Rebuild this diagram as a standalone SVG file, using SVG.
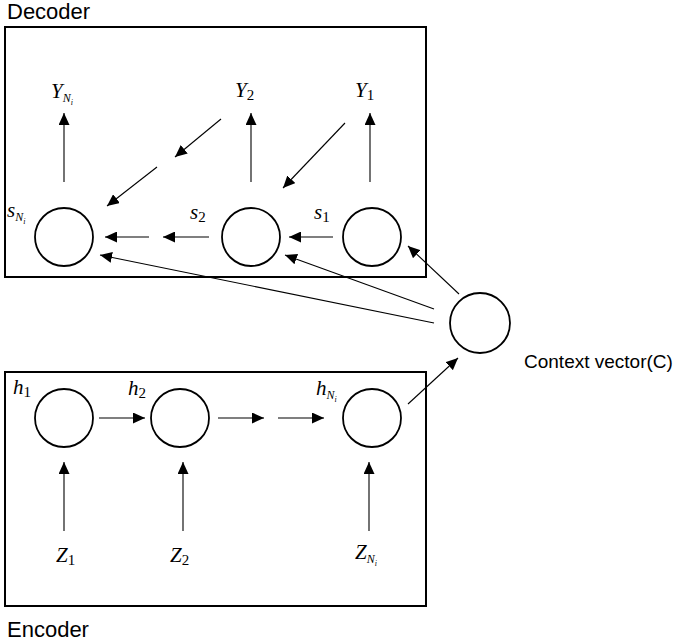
<svg xmlns="http://www.w3.org/2000/svg" width="674" height="643" viewBox="0 0 674 643">
<style>
.box{fill:none;stroke:#000;stroke-width:2}
.node{fill:#fff;stroke:#000;stroke-width:1.8}
.lbl{font-family:"Liberation Sans",Arial,sans-serif;font-size:22px;fill:#000}
.m{font-family:"Liberation Serif","DejaVu Serif",serif;font-style:italic;font-size:21px;fill:#000}
.sub{font-style:normal;font-size:15px}
.subn{font-style:italic;font-size:12px}
.subi{font-style:italic;font-size:8px}
.c line{stroke:#000;stroke-width:1.1;fill:none}
.c line.a{marker-end:url(#ah)}
</style>
<defs>
<marker id="ah" markerUnits="userSpaceOnUse" markerWidth="12" markerHeight="11" refX="12" refY="5.5" orient="auto">
<path d="M0,0 L12,5.5 L0,11 z" fill="#000"/>
</marker>
</defs>
<g id="decoder">
<rect class="box" x="5" y="27" width="421" height="250"/>
<text class="lbl" x="7" y="19">Decoder</text>
</g>
<g id="encoder">
<rect class="box" x="5" y="372" width="421" height="234"/>
<text class="lbl" x="7" y="637">Encoder</text>
</g>
<g id="sN"><circle class="node" cx="64" cy="237" r="29"/>
<text class="m" x="7" y="217">s<tspan class="subn" dy="4">N</tspan><tspan class="subi" dy="3">i</tspan></text></g>
<g id="s2"><circle class="node" cx="251" cy="237" r="29"/>
<text class="m" x="190" y="219">s<tspan class="sub" dy="3">2</tspan></text></g>
<g id="s1"><circle class="node" cx="372" cy="237" r="29"/>
<text class="m" x="314" y="219">s<tspan class="sub" dy="3">1</tspan></text></g>
<g id="yN"><text class="m" x="51" y="98">Y<tspan class="subn" dy="4">N</tspan><tspan class="subi" dy="3">i</tspan></text></g>
<g id="y2"><text class="m" x="235" y="97">Y<tspan class="sub" dy="3">2</tspan></text></g>
<g id="y1"><text class="m" x="355" y="97">Y<tspan class="sub" dy="3">1</tspan></text></g>
<g id="ctx"><circle class="node" cx="480" cy="323" r="30"/>
<text class="lbl" x="524" y="368" style="font-size:19px">Context vector(C)</text></g>
<g id="h1"><circle class="node" cx="64" cy="418" r="29"/>
<text class="m" x="13" y="394">h<tspan class="sub" dy="3">1</tspan></text></g>
<g id="h2"><circle class="node" cx="180" cy="418" r="29"/>
<text class="m" x="128" y="395">h<tspan class="sub" dy="3">2</tspan></text></g>
<g id="hN"><circle class="node" cx="372" cy="418" r="29"/>
<text class="m" x="316" y="395">h<tspan class="subn" dy="4">N</tspan><tspan class="subi" dy="3">i</tspan></text></g>
<g id="z1"><text class="m" x="56" y="562">Z<tspan class="sub" dy="3">1</tspan></text></g>
<g id="z2"><text class="m" x="170" y="562">Z<tspan class="sub" dy="3">2</tspan></text></g>
<g id="zN"><text class="m" x="355" y="559">Z<tspan class="subn" dy="4">N</tspan><tspan class="subi" dy="3">i</tspan></text></g>
<g id="connectors" class="c">
<line class="a" x1="64" y1="182" x2="64" y2="113"/>
<line class="a" x1="251" y1="182" x2="251" y2="113"/>
<line class="a" x1="370" y1="182" x2="370" y2="113"/>
<line class="a" x1="221" y1="119" x2="175" y2="157"/>
<line class="a" x1="157" y1="167" x2="107" y2="206"/>
<line class="a" x1="345" y1="123" x2="283" y2="188"/>
<line class="a" x1="333" y1="237" x2="289" y2="237"/>
<line class="a" x1="209" y1="237" x2="163" y2="237"/>
<line class="a" x1="149" y1="237" x2="105" y2="237"/>
<line class="a" x1="459" y1="294" x2="408" y2="246"/>
<line class="a" x1="434" y1="309" x2="285" y2="255"/>
<line class="a" x1="434" y1="323" x2="100" y2="255"/>
<line class="a" x1="408" y1="404" x2="458" y2="358"/>
<line class="a" x1="99" y1="418" x2="145" y2="418"/>
<line class="a" x1="218" y1="418" x2="264" y2="418"/>
<line class="a" x1="278" y1="418" x2="324" y2="418"/>
<line class="a" x1="64" y1="531" x2="64" y2="462"/>
<line class="a" x1="183" y1="531" x2="183" y2="462"/>
<line class="a" x1="369" y1="531" x2="369" y2="462"/>
</g>
</svg>
